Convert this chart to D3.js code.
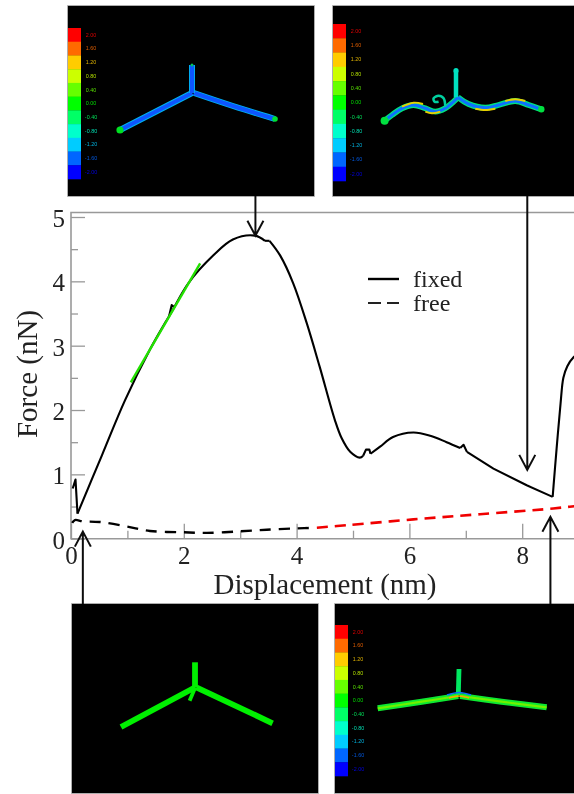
<!DOCTYPE html>
<html>
<head>
<meta charset="utf-8">
<script src="https://cdn.jsdelivr.net/npm/d3@7"></script>
<style>
    html, body { margin: 0; padding: 0; background: #fff; overflow: hidden; }
    svg { display: block; font-family: "Liberation Serif", serif; }
</style>
</head>
<body>
<svg id="chart"></svg>
<script>
// force curves: [displacement nm, force nN]
// fixed is kept in pieces so the sharp kinks stay sharp
const fixedKink = [[0.03,0.78],[0.08,0.92],[0.115,0.39]];
const fixedRise = [[0.115,0.39],[0.55,1.3],[0.957,2.15],[1.4,2.94],[1.78,3.52],[2.08,3.97],[2.52,4.40],[2.87,4.65],[3.26,4.71],[3.44,4.63]];
const fixedBump1 = [[1.74,3.46],[1.785,3.63],[1.83,3.6]];
const fixedTop = [[3.44,4.63],[3.52,4.63]];
const fixedFall = [[3.52,4.63],[3.71,4.40],[3.94,3.97],[4.18,3.35],[4.41,2.67],[4.68,1.84],[4.80,1.56],[4.95,1.35],[5.12,1.26],[5.18,1.29]];
const fixedBump2 = [[5.18,1.29],[5.23,1.385],[5.29,1.385],[5.31,1.32]];
const fixedHump = [[5.31,1.32],[5.48,1.43],[5.71,1.58],[6.07,1.65],[6.37,1.60],[6.66,1.50],[6.90,1.41]];
const fixedBump3 = [[6.90,1.41],[6.96,1.46],[7.02,1.35]];
const fixedDrop = [[7.02,1.35],[7.49,1.09],[8.08,0.83],[8.54,0.65]];
const fixedRecover = [[8.54,0.65],[8.61,1.4],[8.68,2.1],[8.73,2.5],[8.8,2.68],[8.91,2.82],[9.2,3.0]];
const fixedPieces = [fixedRise,fixedFall,fixedHump,fixedRecover];
const fixedStraight = [fixedKink,fixedBump1,fixedTop,fixedBump2,fixedBump3,fixedDrop];

const freeBlack = [[0.02,0.245],[0.07,0.29],[0.21,0.27],[0.51,0.26],[0.99,0.19],[1.40,0.12],[1.98,0.10],[2.41,0.09],[3.0,0.115],[3.47,0.14],[4.0,0.16],[4.36,0.17]];
const freeRed = [[4.36,0.17],[4.89,0.21],[6.07,0.30],[7.25,0.38],[8.55,0.47],[8.92,0.505],[9.2,0.53]];
const fitLine = [[1.06,2.43],[2.29,4.28]];

const xMajor = [0,2,4,6,8];
const xMinor = [1,3,5,7,9];
const yMajor = [0,1,2,3,4,5];
const yMinor = [0.5,1.5,2.5,3.5,4.5];

// arrows: [displacement of the shaft, force at the tip, panel it leaves from]
const arrowTargets = [[3.27,4.71,"top"],[8.09,1.07,"top"],[0.21,0.11,"bottom"],[8.50,0.34,"bottom"]];

const colorSteps = ["#ff0000","#ff6a00","#ffcc00","#ccff00","#66ff00","#00ff00","#00ff66","#00ffcc","#00ccff","#0066ff","#0000ff"];
const colorLabels = ["2.00","1.60","1.20","0.80","0.40","0.00","-0.40","-0.80","-1.20","-1.60","-2.00"];

// the four snapshots, each with its own strands in panel pixels
const panelBoxes = [[68,6,314,196],[333,6,580,196],[72,604,318,793],[335,604,580,793]];
const barBoxes = [[28,179],[24,181],null,[625,776]];

const s1Left = [[52,124],[124,87]];
const s1Right = [[126,87],[165,100],[207,113]];
const s1Stem = [[124,59],[124,87]];

const s2Left = [[51.6,114.7],[59,109],[69,102.3],[80.6,99],[92.3,102.3],[102.3,105.7],[112.3,102.3],[120.6,95.7],[125,91.3]];
const s2Right = [[125,91.3],[135.6,98],[152.3,101.7],[165.6,99],[182.3,95],[195.6,99],[208.3,103.3]];
const s2Curl = [[112.3,100.7],[110.6,92.3],[105.6,89.7],[100.6,92.3],[101.6,95.7],[105.6,95.7]];
const s2Stem = [[123,64.7],[123,91.3]];
const s2Hot = [[[69,100.7],[80.6,96.7],[90,98]],[[92.3,105.7],[99,107.3],[107.3,105.7]],[[142.3,102.7],[152.3,104],[162.3,102.7]],[[172.3,95],[182.3,93.3],[192.3,95]]];

const s3Left = [[49,123],[123.3,83.3]];
const s3Right = [[124.3,83.3],[200.6,119.3]];
const s3Stem = [[123,58.3],[123,83]];
const s3Kink = [[123.3,83.3],[117.6,96.7]];

const s4Left = [[42.7,104.3],[86.7,97.7],[123.3,92]];
const s4Right = [[125,92],[166.7,97.7],[211.7,103.3]];
const s4Stem = [[124,65],[123.3,91]];
const s4Cold = [[112,91],[124,88.5],[136,91]];
const s4Warm = [[114,94],[124,92],[134,94]];

const w = 574, h = 794;
const svg = d3.select("#chart").attr("width", w).attr("height", h);

const defs = svg.append("defs");
defs.append("filter").attr("id","soft").append("feGaussianBlur").attr("stdDeviation",0.4);
defs.append("filter").attr("id","softer").append("feGaussianBlur").attr("stdDeviation",0.6);

const x = d3.scaleLinear().domain([0,9.2]).range([71,71+9.2*56.4]);
const y = d3.scaleLinear().domain([0,5]).range([538.7,217]);
const smooth = d3.line().x(d => x(d[0])).y(d => y(d[1])).curve(d3.curveCatmullRom);
const straight = d3.line().x(d => x(d[0])).y(d => y(d[1]));

const plot = svg.append("g").attr("filter","url(#soft)");

// frame
const frameColor = "#999";
plot.append("path")
    .attr("d", "M" + w + "," + y(5.07) + "H" + x(0) + "V" + y(0) + "H" + w)
    .attr("fill","none").attr("stroke",frameColor).attr("stroke-width",1.6);

// axes, ticks point into the plot
function styleAxis(g){
    g.select(".domain").remove();
    g.selectAll("line").attr("stroke",frameColor).attr("stroke-width",1.3);
    g.selectAll("text").attr("font-family","Liberation Serif").attr("font-size",25).attr("fill","#222");
}
plot.append("g").attr("transform","translate(0," + y(0) + ")")
    .call(d3.axisBottom(x).tickValues(xMajor).tickSize(-15).tickFormat(d3.format("d")))
    .call(styleAxis)
    .selectAll("text").attr("y",8).attr("dy","0.71em");
plot.append("g").attr("transform","translate(0," + y(0) + ")")
    .call(d3.axisBottom(x).tickValues(xMinor).tickSize(-8).tickFormat(""))
    .call(styleAxis);
plot.append("g").attr("transform","translate(" + x(0) + ",0)")
    .call(d3.axisLeft(y).tickValues(yMajor).tickSize(-14).tickFormat(d3.format("d")))
    .call(styleAxis)
    .selectAll("text").attr("x",-6).attr("dy","0.38em");
plot.append("g").attr("transform","translate(" + x(0) + ",0)")
    .call(d3.axisLeft(y).tickValues(yMinor).tickSize(-7).tickFormat(""))
    .call(styleAxis);

plot.append("text").attr("x",325).attr("y",594).attr("text-anchor","middle")
    .attr("font-size",29).attr("fill","#222").text("Displacement (nm)");
plot.append("text").attr("transform","translate(37,374) rotate(-90)").attr("text-anchor","middle")
    .attr("font-size",29).attr("fill","#222").text("Force (nN)");

// curves
plot.append("path").datum(freeRed).attr("d",smooth).attr("fill","none")
    .attr("stroke","#f00000").attr("stroke-width",2.6).attr("stroke-dasharray","11,7");
plot.append("path").datum(freeBlack).attr("d",smooth).attr("fill","none")
    .attr("stroke","#000").attr("stroke-width",2.4).attr("stroke-dasharray","11,8");
fixedPieces.forEach(p => {
    plot.append("path").datum(p).attr("d",smooth).attr("fill","none")
        .attr("stroke","#000").attr("stroke-width",2.1);
});
fixedStraight.forEach(p => {
    plot.append("path").datum(p).attr("d",straight).attr("fill","none")
        .attr("stroke","#000").attr("stroke-width",2.1).attr("stroke-linejoin","round");
});
plot.append("path").datum(fitLine).attr("d",straight)
    .attr("fill","none").attr("stroke","#22e000").attr("stroke-width",2.4);

// legend
plot.append("line").attr("x1",368).attr("x2",399).attr("y1",279).attr("y2",279)
    .attr("stroke","#000").attr("stroke-width",2.4);
plot.append("line").attr("x1",368).attr("x2",399).attr("y1",303).attr("y2",303)
    .attr("stroke","#222").attr("stroke-width",1.8).attr("stroke-dasharray","13,6");
plot.append("text").attr("x",413).attr("y",287).attr("font-size",24).attr("fill","#222").text("fixed");
plot.append("text").attr("x",413).attr("y",311).attr("font-size",24).attr("fill","#222").text("free");

// snapshot panels
const panelLayer = svg.append("g");
const panels = panelBoxes.map(b => {
    const g = panelLayer.append("g");
    g.append("rect").attr("x",b[0]-0.8).attr("y",b[1]-0.8).attr("width",b[2]-b[0]+1.6).attr("height",b[3]-b[1]+1.6).attr("fill","#999");
    g.append("rect").attr("x",b[0]).attr("y",b[1]).attr("width",b[2]-b[0]).attr("height",b[3]-b[1]).attr("fill","#000");
    return {
        box: b,
        sx: d3.scaleLinear().domain([0,b[2]-b[0]]).range([b[0],b[2]]),
        sy: d3.scaleLinear().domain([0,b[3]-b[1]]).range([b[1],b[3]]),
        art: g.append("g").attr("filter","url(#softer)")
    };
});

// colour bar with its tiny labels
panels.forEach((p,i) => {
    if(!barBoxes[i]) return;
    const band = d3.scaleBand().domain(colorLabels).range(barBoxes[i]);
    p.art.selectAll(".step").data(colorLabels).enter().append("rect")
        .attr("x",p.box[0]).attr("width",13)
        .attr("y",d => band(d)).attr("height",band.bandwidth()+0.3)
        .attr("fill",(d,k) => colorSteps[k]);
    p.art.selectAll(".lab").data(colorLabels).enter().append("text")
        .attr("x",p.box[0]+23).attr("y",d => band(d)+band.bandwidth()/2+1.8)
        .attr("text-anchor","middle").attr("font-size",5.4).attr("font-family","Liberation Sans")
        .attr("fill",(d,k) => d3.color(colorSteps[k]).darker(0.4))
        .text(d => d);
});

function strand(p,pts,color,width,curved){
    const l = d3.line().x(d => p.sx(d[0])).y(d => p.sy(d[1]));
    if(curved) l.curve(d3.curveCatmullRom);
    p.art.append("path").datum(pts).attr("d",l).attr("fill","none")
        .attr("stroke",color).attr("stroke-width",width).attr("stroke-linejoin","round");
}
function blob(p,pt,color,r){
    p.art.append("circle").attr("cx",p.sx(pt[0])).attr("cy",p.sy(pt[1])).attr("r",r).attr("fill",color);
}

// panel 1, blue beam with cyan rim
[s1Left,s1Right,s1Stem].forEach(s => {
    strand(panels[0],s,"#00b4f0",6,true);
    strand(panels[0],s,"#0a55ff",4.2,true);
});
blob(panels[0],s1Left[0],"#00e020",3.6);
blob(panels[0],s1Right[2],"#00e030",2.8);
blob(panels[0],s1Stem[0],"#00c060",1.5);

// panel 2, buckled beam
[s2Left,s2Right].forEach(s => strand(panels[1],s,"#00e080",5.8,true));
[s2Left,s2Right].forEach(s => strand(panels[1],s,"#0a70ff",3,true));
strand(panels[1],s2Curl,"#00d0a0",2.6,true);
s2Hot.forEach(s => { strand(panels[1],s,"#e8d000",1.9,true); });
strand(panels[1],s2Stem,"#00e0c0",4.5);
blob(panels[1],s2Left[0],"#00e040",4);
blob(panels[1],s2Right[6],"#00e040",3.2);
blob(panels[1],s2Stem[0],"#00e0c0",2.6);

// panel 3, unloaded, all green
[s3Left,s3Right,s3Stem].forEach(s => strand(panels[2],s,"#00f000",5.8));
strand(panels[2],s3Kink,"#00f000",3.8);

// panel 4, almost flat beam
[s4Left,s4Right].forEach(s => {
    strand(panels[3],s,"#10e830",6,true);
    strand(panels[3],s,"#70f000",2.2,true);
});
strand(panels[3],s4Stem,"#00e860",4.8);
strand(panels[3],s4Cold,"#0a70ff",1.7,true);
strand(panels[3],s4Warm,"#ffa000",1.5,true);

// arrows between the snapshots and the curve
const arrows = svg.append("g").attr("filter","url(#soft)");
arrowTargets.forEach(a => {
    const ax = x(a[0]), tip = y(a[1]);
    const fromTop = a[2] === "top";
    const start = fromTop ? 196 : 604;
    const back = fromTop ? -15 : 15;
    arrows.append("path")
        .attr("d","M" + ax + "," + start + "V" + tip
            + "M" + (ax-8) + "," + (tip+back) + "L" + ax + "," + tip + "L" + (ax+8) + "," + (tip+back))
        .attr("fill","none").attr("stroke","#111").attr("stroke-width",2);
});
</script>
</body>
</html>
